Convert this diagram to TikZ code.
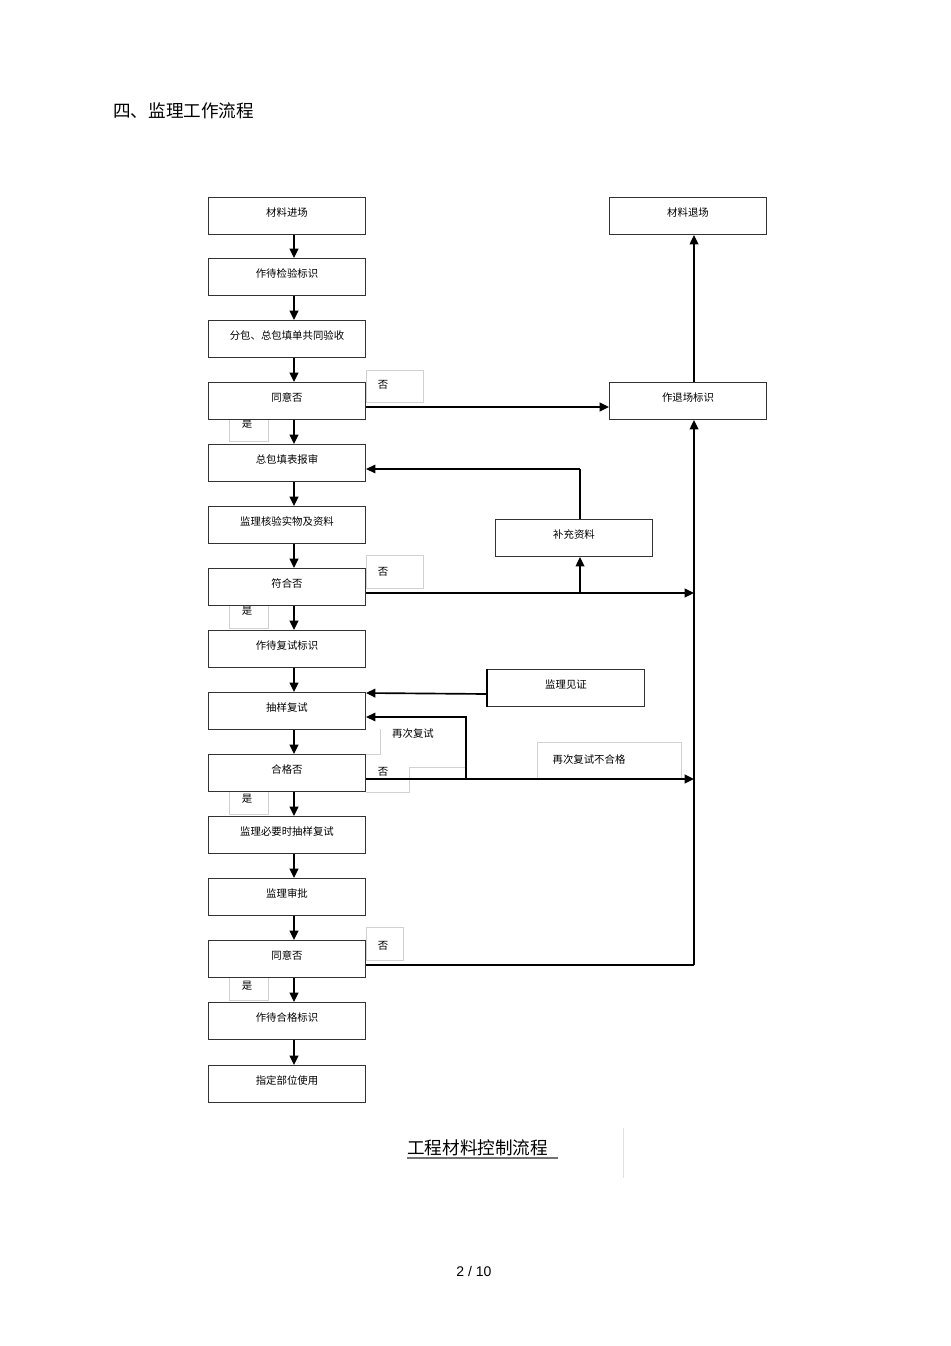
\documentclass[tikz,border=0pt]{standalone}
\usepackage{fontspec}
\setmainfont{Liberation Sans}
\newfontfamily\cjk{Noto Sans CJK SC}
\usetikzlibrary{arrows.meta,calc}
\begin{document}
\begin{tikzpicture}[x=0.75pt,y=-0.75pt,
  box/.style={draw=black!80,line width=0.8pt,minimum width=117.75pt,minimum height=27.75pt,
    anchor=north west,inner sep=0pt,fill=white,font=\cjk\fontsize{7.8}{9}\selectfont,
    text height=7pt,text depth=6pt},
  lbl/.style={draw=black!18,line width=0.6pt,anchor=north west,inner sep=0pt,fill=white},
  faint/.style={draw=black!18,line width=0.6pt},
  txt/.style={inner sep=0pt,font=\cjk\fontsize{7.8}{9}\selectfont},
  arr/.style={line width=1.25pt,-{Triangle[length=7pt,width=6.5pt]}},
  ln/.style={line width=1.25pt}]
\useasboundingbox (0,0) rectangle (950,1346);

% title
\node[inner sep=0pt,anchor=west,font=\cjk\fontsize{13.2}{15}\selectfont] (title) at (113,111) {四、监理工作流程};

% label boxes (yes / no)
\node[lbl,minimum width=42.75pt,minimum height=24pt] (n1) at (366,370) {};
\node[txt] (n1t) at (383,385) {否};
\node[lbl,minimum width=29.25pt,minimum height=16.5pt] (y1) at (229,419) {};
\node[txt] (y1t) at (247,424) {是};
\node[lbl,minimum width=42.75pt,minimum height=24.75pt] (n2) at (366,555) {};
\node[txt] (n2t) at (383,572) {否};
\node[lbl,minimum width=29.25pt,minimum height=17.25pt] (y2) at (229,605) {};
\node[txt] (y2t) at (247,611) {是};
\node[lbl,draw=none,minimum width=64.5pt,minimum height=37.5pt] (r1) at (380,717) {};
\node[txt] (r1t) at (413,734) {再次复试};
\draw[faint] (380,729) -- (380,754) -- (366,754);
\node[lbl,minimum width=108pt,minimum height=27.75pt] (r2) at (537,742) {};
\node[txt] (r2t) at (589,760) {再次复试不合格};
\draw[faint] (466,767) -- (409,767) -- (409,792) -- (366,792);
\node[txt] (n3t) at (383,772) {否};
\node[lbl,minimum width=29.25pt,minimum height=17.25pt] (y3) at (229,791) {};
\node[txt] (y3t) at (247,799) {是};
\node[lbl,minimum width=27.75pt,minimum height=24.75pt] (n4) at (366,927) {};
\node[txt] (n4t) at (383,946) {否};
\node[lbl,minimum width=29.25pt,minimum height=17.25pt] (y4) at (229,977) {};
\node[txt] (y4t) at (247,986) {是};

% main column
\node[box] (b1) at (208,197) {材料进场};
\node[box] (b2) at (208,258) {作待检验标识};
\node[box] (b3) at (208,320) {分包、总包填单共同验收};
\node[box] (b4) at (208,382) {同意否};
\node[box] (b5) at (208,444) {总包填表报审};
\node[box] (b6) at (208,506) {监理核验实物及资料};
\node[box] (b7) at (208,568) {符合否};
\node[box] (b8) at (208,630) {作待复试标识};
\node[box] (b9) at (208,692) {抽样复试};
\node[box] (b10) at (208,754) {合格否};
\node[box] (b11) at (208,816) {监理必要时抽样复试};
\node[box] (b12) at (208,878) {监理审批};
\node[box] (b13) at (208,940) {同意否};
\node[box] (b14) at (208,1002) {作待合格标识};
\node[box] (b15) at (208,1065) {指定部位使用};

% right side
\node[box] (out) at (609,197) {材料退场};
\node[box] (mark) at (609,382) {作退场标识};
\node[box] (sup) at (495,519) {补充资料};
\node[box] (wit) at (487,669) {监理见证};
\draw[line width=1.4pt] (wit.north west) -- (wit.south west);

% vertical arrows of main column
\coordinate (mx) at (294,0);
\foreach \a/\b in {b1/b2,b2/b3,b3/b4,b4/b5,b5/b6,b6/b7,b7/b8,b8/b9,b9/b10,b10/b11,b11/b12,b12/b13,b13/b14,b14/b15}
  \draw[arr] (mx |- \a.south) -- (mx |- \b.north);

% connectors
\coordinate (v13) at (694,965);
\coordinate (v7) at (694,593);
\coordinate (v10) at (694,779);
\coordinate (c4) at (609,407);
\draw[arr] (b4.east |- c4) -- (mark.west |- c4);
\draw[arr] (v13 |- mark.north) -- (v13 |- out.south);

\draw[ln] (b13.east |- v13) -- (v13);
\draw[arr] (v13) -- (v13 |- mark.south);
\draw[arr] (b7.east |- v7) -- (v7);
\coordinate (s7) at (580,593);
\draw[arr] (s7) -- (s7 |- sup.south);
\coordinate (s5) at (580,469);
\draw[line width=0.8pt] (s5 |- sup.north) -- (s5);
\draw[arr,line width=0.8pt] (s5) -- (b5.east |- s5);
\coordinate (w1) at (487,694);
\coordinate (w2) at (366,693);
\draw[arr] (wit.west |- w1) -- (w2);
\draw[arr] (b10.east |- v10) -- (v10);
\coordinate (l1) at (466,779);
\coordinate (l2) at (466,717);
\draw[arr,line width=0.8pt] (l1) -- (l2) -- (b9.east |- l2);

% caption
\node[inner sep=0pt,anchor=base west,font=\cjk\fontsize{13.2}{15}\selectfont] (cap) at (407,1154) {工程材料控制流程};
\draw[black!55,line width=0.9pt] (407,1158) -- (558,1158);
\draw[black!12,line width=0.6pt] (623,1128) -- (623,1178);

\node[inner sep=0pt,font=\fontsize{10.5}{12}\selectfont] (pg) at (474,1271) {2 / 10};
\end{tikzpicture}
\end{document}
